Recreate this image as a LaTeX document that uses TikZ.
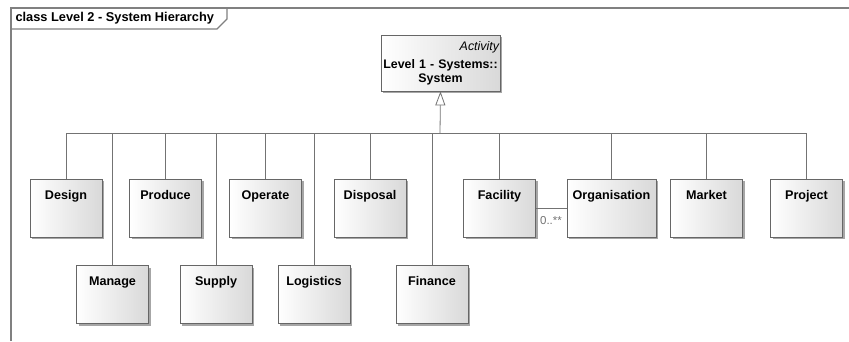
\documentclass[tikz,border=0pt]{standalone}
\usepackage{fontspec}
\setmainfont{Liberation Sans}
\usetikzlibrary{arrows.meta,shadows}
\begin{document}
\begin{tikzpicture}[x=1pt, y=-1pt,
  cls/.style={draw=black!60, line width=0.8pt, left color=white, right color=black!15,
    minimum width=72pt, inner xsep=0pt, inner ysep=4pt, text height=16pt, text depth=34pt,
    font=\fontsize{12.6}{14}\selectfont\bfseries,
    drop shadow={shadow xshift=2pt, shadow yshift=-2pt, fill=black!50, opacity=0.7}},
  parentbox/.style={draw=black!60, line width=0.8pt, left color=white, right color=black!15,
    minimum width=119pt, minimum height=56pt, text width=119pt, inner sep=0pt, align=center,
    font=\fontsize{12.4}{13.5}\selectfont\bfseries,
    drop shadow={shadow xshift=2pt, shadow yshift=-2pt, fill=black!50, opacity=0.7}},
  gen/.style={draw=black!55, line width=0.8pt},
  frm/.style={draw=black!50, line width=1.2pt}]
\useasboundingbox (0,0) rectangle (849,341);
\draw [frm] (11,341) -- (11,8) -- (849,8);
\draw [frm] (11,29) -- (217,29) -- (227,19) -- (227,8);
\node [anchor=west, font=\fontsize{12.8}{14}\selectfont\bfseries] (title) at (12,18.5) {class Level 2 - System Hierarchy};
\node [parentbox] (sys) at (440.5,63) {\hfill{\mdseries\itshape Activity}\kern1pt\\[5pt]Level 1 - Systems::\\System};
\node [cls] (design) at (66,208) {Design};
\node [cls] (manage) at (112.5,294.5) {Manage};
\node [cls] (produce) at (165.5,208) {Produce};
\node [cls] (supply) at (216,294.5) {Supply};
\node [cls] (operate) at (265.5,208) {Operate};
\node [cls] (logistics) at (314,294.5) {Logistics};
\node [cls] (disposal) at (370,208) {Disposal};
\node [cls] (finance) at (432,294.5) {Finance};
\node [cls] (facility) at (499.5,208) {Facility};
\node [cls, minimum width=89pt] (organisation) at (611.5,208) {Organisation};
\node [cls] (market) at (706.5,208) {Market};
\node [cls] (project) at (806.5,208) {Project};
\coordinate (bus) at (440,133);
\foreach \n in {design,manage,produce,supply,operate,logistics,disposal,finance,facility,organisation,market,project}
  \draw [gen] (\n.north) |- (bus);
\draw [gen, -{Triangle[length=14pt, width=10pt, fill=white]}] (bus) -- (sys.south);
\draw [gen] (facility) -- (organisation);
\node [font=\fontsize{11.5}{12}\selectfont, text=black!55] (mult) at (551,221) {0..**};
\end{tikzpicture}
\end{document}
